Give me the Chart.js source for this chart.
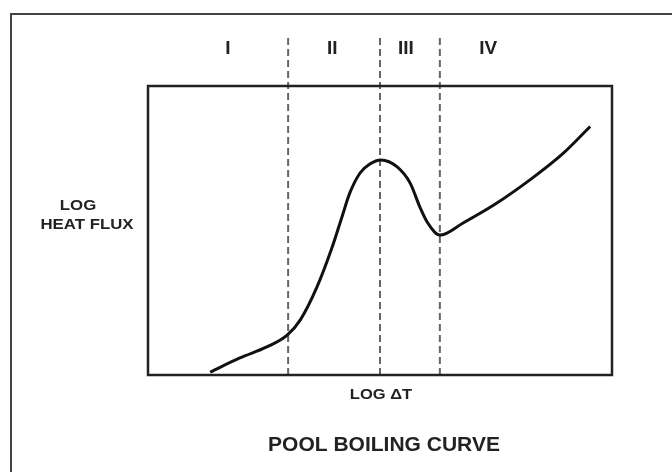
<!DOCTYPE html>
<html>
<head>
<meta charset="utf-8">
<script src="https://cdn.jsdelivr.net/npm/chart.js@4.4.1/dist/chart.umd.min.js"></script>
<style>
  body { margin: 0; background: #fff; }
  canvas { display: block; }
</style>
</head>
<body>
<canvas id="boilChart" width="672" height="472"></canvas>
<script>
// curve (log dT vs log heat flux, arbitrary 0-100 units)
const heatX = [13.4, 19.8, 25.6, 30.0, 32.8, 36.4, 39.7, 41.8, 43.5, 45.7, 47.8, 50.2, 53.7, 56.5, 58.6, 60.3, 62.9, 67.9, 75.2, 82.3, 89.4, 95.3];
const heatY = [1.0, 5.9, 9.7, 13.8, 19.0, 30.4, 44.3, 54.7, 63.0, 69.9, 73.0, 74.4, 72.0, 66.4, 58.1, 52.6, 48.4, 52.6, 59.5, 67.5, 76.6, 86.0];

// regime boundaries and labels
const boundaryX = [30.2, 50.0, 62.9];
const boundaryTop = 118;
const regionLabels = ['I', 'II', 'III', 'IV'];
const regionLabelX = [17.2, 39.7, 55.6, 73.3];
const regionLabelY = 113;

const FONT = '"Liberation Sans", Arial, sans-serif';

const datasets = [{
    data: heatX.map((x, i) => ({ x: x, y: heatY[i] })),
    borderColor: '#111',
    borderWidth: 3,
    pointRadius: 0,
    cubicInterpolationMode: 'monotone',
    fill: false,
    order: 0
}];

boundaryX.forEach(bx => {
    datasets.push({
        data: [{ x: bx, y: 0 }, { x: bx, y: boundaryTop }],
        borderColor: '#666',
        borderWidth: 2,
        borderDash: [7, 4],
        pointRadius: 0,
        clip: false,
        order: 1
    });
});

// text stretched sideways a bit, like the scanned original
function wideText(c, txt, x, y, sx) {
    c.save();
    c.translate(x, y);
    c.scale(sx, 1);
    c.fillText(txt, 0, 0);
    c.restore();
}

// frame, plot box and text
const decorPlugin = {
    id: 'decor',
    beforeDatasetsDraw(chart) {
        const c = chart.ctx;
        c.save();
        c.strokeStyle = '#444';
        c.lineWidth = 2;
        c.beginPath();
        c.moveTo(11, 472);
        c.lineTo(11, 14);
        c.lineTo(672, 14);
        c.stroke();
        c.restore();
    },
    afterDatasetsDraw(chart) {
        const c = chart.ctx;
        const a = chart.chartArea;
        const xs = chart.scales.x, ys = chart.scales.y;
        c.save();
        c.strokeStyle = '#222';
        c.lineWidth = 2.5;
        c.strokeRect(a.left, a.top, a.right - a.left, a.bottom - a.top);

        c.fillStyle = '#222';
        c.textAlign = 'center';
        c.textBaseline = 'middle';
        c.font = 'bold 19px ' + FONT;
        regionLabels.forEach((lab, i) => {
            c.fillText(lab, xs.getPixelForValue(regionLabelX[i]), ys.getPixelForValue(regionLabelY));
        });

        c.font = 'bold 14px ' + FONT;
        wideText(c, 'LOG', 78, 206, 1.2);
        wideText(c, 'HEAT FLUX', 87, 225, 1.2);
        wideText(c, 'LOG \u0394T', 381, 395, 1.18);

        c.font = 'bold 21px ' + FONT;
        c.fillText('POOL BOILING CURVE', 384, 445);
        c.restore();
    }
};

new Chart(document.getElementById('boilChart'), {
    type: 'line',
    data: { datasets: datasets },
    options: {
        responsive: false,
        animation: false,
        layout: { padding: { left: 148, right: 60, top: 86, bottom: 97 } },
        plugins: { legend: { display: false }, tooltip: { enabled: false } },
        scales: {
            x: { type: 'linear', min: 0, max: 100, display: false },
            y: { type: 'linear', min: 0, max: 100, display: false }
        }
    },
    plugins: [decorPlugin]
});
</script>
</body>
</html>
